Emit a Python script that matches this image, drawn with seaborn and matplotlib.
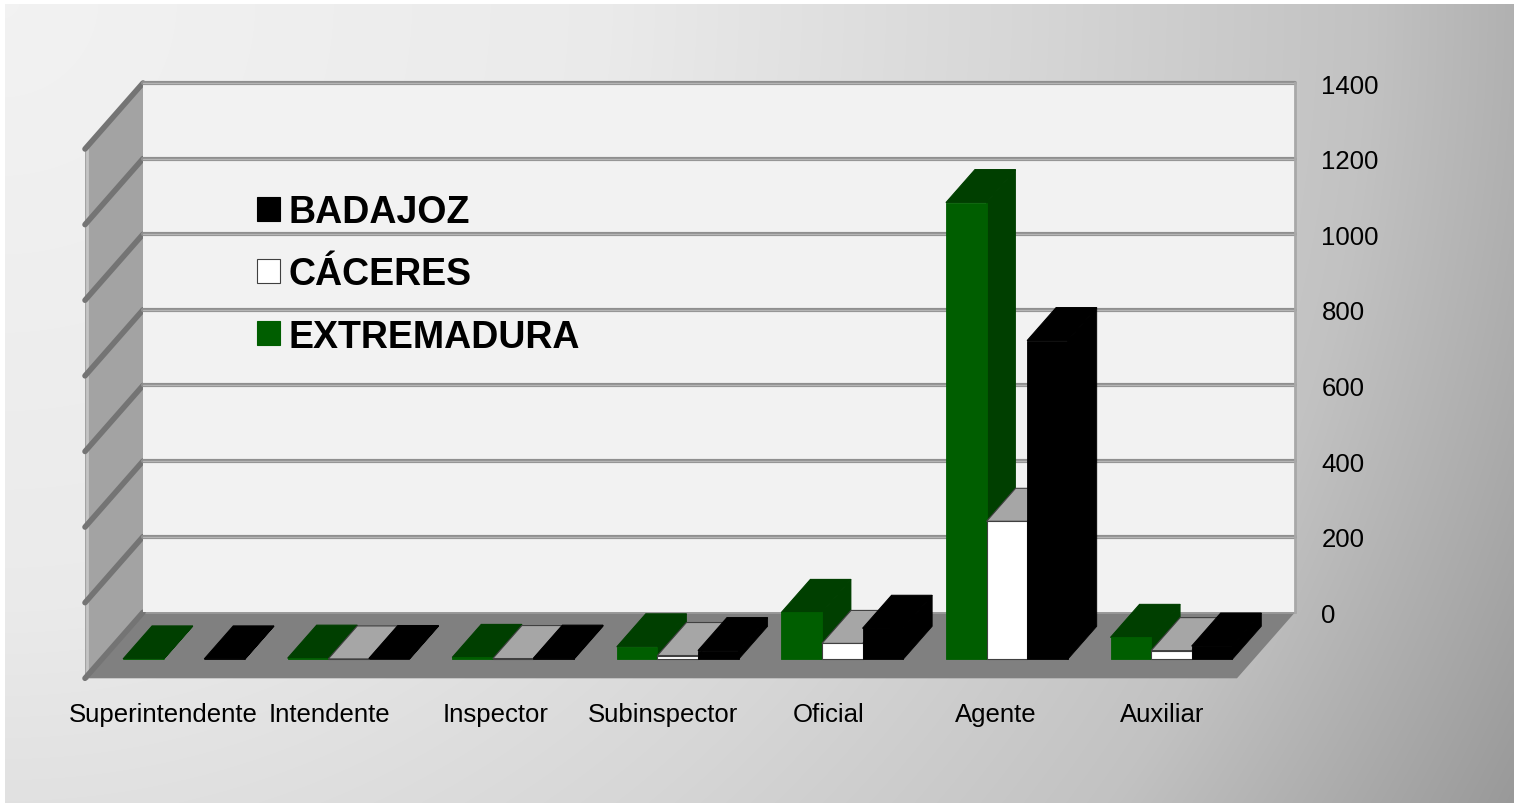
import numpy as np
import pandas as pd
import matplotlib
matplotlib.use('Agg')
import matplotlib.pyplot as plt
from matplotlib.patches import Polygon, Patch
import seaborn as sns

# data
categorias = ['Superintendente', 'Intendente', 'Inspector', 'Subinspector',
              'Oficial', 'Agente', 'Auxiliar']
badajoz = [1, 2, 3, 23, 82, 843, 35]
caceres = [np.nan, 1, 2, 10, 42, 365, 23]
extremadura = [1, 3, 5, 33, 124, 1208, 58]
provincias = ['EXTREMADURA', 'CÁCERES', 'BADAJOZ']
yticks = [0, 200, 400, 600, 800, 1000, 1200, 1400]

# colours: front, top, side
front_cols = {'EXTREMADURA': '#005e00', 'CÁCERES': '#ffffff', 'BADAJOZ': '#000000'}
top_cols = {'EXTREMADURA': '#003f00', 'CÁCERES': '#a6a6a6', 'BADAJOZ': '#000000'}
side_cols = {'EXTREMADURA': '#003f00', 'CÁCERES': '#9a9a9a', 'BADAJOZ': '#000000'}

W, H = 1514, 804
DEPTH = (-58, 66)       # wall -> front of floor, pixels
BAR_SHIFT = (-41.3, 47)  # wall -> bar front face
BAR_DEPTH = (29, 33)     # bar front -> bar back


def fig_rect(x0, y0, x1, y1):
    return [x0 / W, 1 - y1 / H, (x1 - x0) / W, (y1 - y0) / H]


df = pd.DataFrame({'categoria': categorias, 'BADAJOZ': badajoz,
                   'CÁCERES': caceres, 'EXTREMADURA': extremadura})
df = df.melt(id_vars='categoria', var_name='provincia', value_name='efectivos')

sns.set_style('white')
plt.rcParams['font.family'] = ['Liberation Sans', 'DejaVu Sans']
plt.rcParams['text.color'] = 'black'
plt.rcParams['xtick.color'] = 'black'
plt.rcParams['ytick.color'] = 'black'

fig = plt.figure(figsize=(W / 100, H / 100), dpi=100)

# background gradient (light top-left to dark bottom-right)
bg = fig.add_axes([0, 0, 1, 1], zorder=0)
yy, xx = np.mgrid[0:H, 0:W]
d = np.hypot(xx, yy) / np.hypot(W, H)
shade = np.interp(d, [0, 0.35, 0.6, 0.8, 1.0], [0.95, 0.92, 0.84, 0.76, 0.60])
shade[:5, :] = 1.0
shade[:, :5] = 1.0
bg.imshow(np.dstack([shade] * 3), extent=(0, W, H, 0), aspect='auto')
bg.set_xlim(0, W)
bg.set_ylim(H, 0)
bg.axis('off')

# back wall with value axis
wall = (143, 84, 1295, 613.3)
ax_wall = fig.add_axes(fig_rect(*wall), zorder=2)
ax_wall.set_facecolor('#f2f2f2')
ax_wall.set_xlim(-0.5, 6.5)
ax_wall.set_ylim(0, 1400)
ax_wall.set_xticks([])
ax_wall.yaxis.tick_right()
ax_wall.set_yticks(yticks)
ax_wall.tick_params(axis='y', length=0, pad=19, labelsize=18.5, labelcolor='black')
for s in ['top', 'left', 'bottom']:
    ax_wall.spines[s].set_visible(False)
ax_wall.spines['right'].set_color('#a8a8a8')
ax_wall.spines['right'].set_linewidth(2)
for v in yticks[1:]:
    ax_wall.axhline(v, color='#8f8f8f', lw=3, clip_on=False, zorder=1)
    ax_wall.axhline(v, color='#b5b5b5', lw=1, clip_on=False, zorder=1)

# side wall and floor, drawn in pixel space from the wall edges
x0, ytop, x1, ybot = wall
dx, dy = DEPTH
bg.add_patch(Polygon([(x0, ytop), (x0 + dx, ytop + dy), (x0 + dx, ybot + dy), (x0, ybot)],
                     closed=True, fc='#a3a3a3', ec='none', zorder=2))
bg.plot([x0 + dx + 2, x0 + dx + 2], [ytop + dy, ybot + dy], color='#c4c4c4', lw=2, zorder=3)
bg.add_patch(Polygon([(x0, ybot), (x1, ybot), (x1 + dx, ybot + dy), (x0 + dx, ybot + dy)],
                     closed=True, fc='#808080', ec='none', zorder=2))
bg.plot([x0, x1], [ybot, ybot], color='#9a9a9a', lw=2, zorder=3)
for v in yticks:
    py = ybot - (ybot - ytop) * v / 1400
    bg.plot([x0, x0 + dx], [py, py + dy], color='#747474', lw=4,
            solid_capstyle='round', zorder=4)

# bars (front faces via seaborn), shifted forward onto the floor
bx, by = BAR_SHIFT
ax_bar = fig.add_axes(fig_rect(x0 + bx, ytop + by, x1 + bx, ybot + by), zorder=3)
sns.barplot(data=df, x='categoria', y='efectivos', hue='provincia',
            order=categorias, hue_order=provincias,
            palette=[front_cols[p] for p in provincias], saturation=1,
            width=0.74, gap=0, errorbar=None, legend=False, ax=ax_bar)
ax_bar.set_xlim(-0.5, 6.5)
ax_bar.set_ylim(0, 1400)
ax_bar.axis('off')
ax_bar.patch.set_visible(False)

bar_w_px = (x1 - x0)
bar_h_px = (ybot - ytop)
ddx = BAR_DEPTH[0] / bar_w_px * 7
ddy = BAR_DEPTH[1] / bar_h_px * 1400

for j, (cont, prov) in enumerate(zip(ax_bar.containers, provincias)):
    for bar in cont:
        h = bar.get_height()
        if np.isnan(h):
            bar.set_visible(False)
            continue
        bx0 = bar.get_x()
        bw = bar.get_width()
        i = int(round(bx0 + bw / 2))
        z = 2 + (i * 3 + j) * 0.01
        outline = prov == 'CÁCERES'
        side = Polygon([(bx0 + bw, 0), (bx0 + bw + ddx, ddy), (bx0 + bw + ddx, h + ddy), (bx0 + bw, h)],
                       closed=True, fc=side_cols[prov], ec=side_cols[prov], lw=0.6,
                       zorder=z, clip_on=False)
        top = Polygon([(bx0, h), (bx0 + bw, h), (bx0 + bw + ddx, h + ddy), (bx0 + ddx, h + ddy)],
                      closed=True, fc=top_cols[prov],
                      ec='#404040' if outline else top_cols[prov], lw=0.8,
                      zorder=z + 0.001, clip_on=False)
        ax_bar.add_patch(side)
        ax_bar.add_patch(top)
        bar.set_zorder(z + 0.002)
        bar.set_clip_on(False)
        bar.set_edgecolor('#404040' if outline else front_cols[prov])
        bar.set_linewidth(0.8 if outline else 0.6)

# category labels along the front of the floor
ax_lab = fig.add_axes(fig_rect(79.75, 600, 1245.25, 679), zorder=3)
ax_lab.set_xlim(-0.5, 6.5)
ax_lab.set_xticks(range(len(categorias)))
ax_lab.set_xticklabels(categorias)
ax_lab.set_yticks([])
ax_lab.tick_params(axis='x', length=0, pad=17, labelsize=18.5, labelcolor='black')
ax_lab.patch.set_visible(False)
for s in ax_lab.spines.values():
    s.set_visible(False)

# legend
handles = [Patch(fc=front_cols[p], ec='#404040' if p == 'CÁCERES' else front_cols[p], lw=0.8)
           for p in ['BADAJOZ', 'CÁCERES', 'EXTREMADURA']]
leg = ax_bar.legend(handles, ['BADAJOZ', 'CÁCERES', 'EXTREMADURA'],
                    loc='upper left', bbox_to_anchor=(257 / W, 1 - 195 / H),
                    bbox_transform=fig.transFigure, frameon=False,
                    prop={'weight': 'bold', 'size': 27},
                    handlelength=0.62, handleheight=0.62, handletextpad=0.22,
                    labelspacing=0.7, borderpad=0, borderaxespad=0)
for t in leg.get_texts():
    t.set_color('black')

fig.savefig('out.png', dpi=100)
plt.close(fig)
